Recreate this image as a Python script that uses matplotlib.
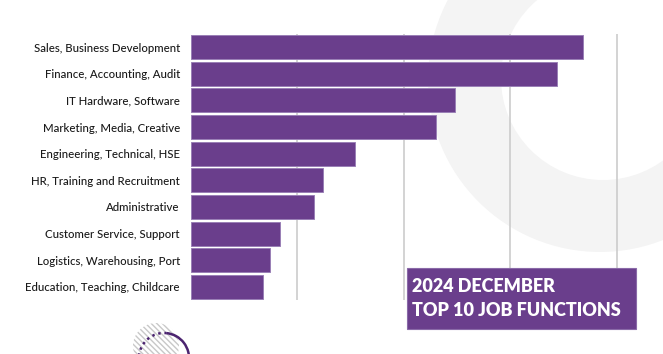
import matplotlib.pyplot as plt
from matplotlib.patches import Circle, Rectangle, Arc

# data
functions = [
    "Sales, Business Development",
    "Finance, Accounting, Audit",
    "IT Hardware, Software",
    "Marketing, Media, Creative",
    "Engineering, Technical, HSE",
    "HR, Training and Recruitment",
    "Administrative",
    "Customer Service, Support",
    "Logistics, Warehousing, Port",
    "Education, Teaching, Childcare",
]
shares = [18.4, 17.2, 12.4, 11.5, 7.7, 6.2, 5.8, 4.2, 3.7, 3.4]
grid_ticks = [5, 10, 15, 20]
title_lines = ["2024 DECEMBER", "TOP 10 JOB FUNCTIONS"]

PURPLE = "#6a3e8c"

fig = plt.figure(figsize=(6.63, 3.54), dpi=100)

# background decoration, in pixel coords (y goes down)
bg = fig.add_axes([0, 0, 1, 1], zorder=0)
bg.set_xlim(0, 663)
bg.set_ylim(354, 0)
bg.axis("off")
bg.add_patch(Circle((600, 80), 172, facecolor="#f4f4f4", edgecolor="none"))
bg.add_patch(Circle((603, 78), 102, facecolor="white", edgecolor="none"))
bg.add_patch(Circle((156, 346), 23, facecolor="none", edgecolor="#c8c8c8",
                    hatch="\\\\\\\\\\\\", linewidth=0))
bg.add_patch(Arc((164, 358), 50, 50, theta1=185, theta2=275, color="#4b2470",
                 linewidth=1.8, linestyle=(0, (1, 1.5))))
bg.add_patch(Arc((164, 358), 50, 50, theta1=275, theta2=370, color="#4b2470",
                 linewidth=1.8))

# main chart
ax = fig.add_axes([191 / 663, 1 - 300.3 / 354, 447 / 663, 266.6 / 354], zorder=1)
ax.set_facecolor("none")
y = range(len(functions))
ax.barh(y, shares, height=0.9, color=PURPLE, edgecolor="#9a80b6", linewidth=0.7,
        zorder=2)
ax.set_ylim(len(functions) - 0.5, -0.5)
ax.set_xlim(0, 21)
ax.set_yticks(list(y))
ax.set_yticklabels(functions, fontfamily="Lato", fontweight="medium",
                   fontsize=8.2, color="#1a1a1a")
ax.set_xticks(grid_ticks)
ax.tick_params(axis="x", length=0, labelbottom=False)
ax.tick_params(axis="y", length=0, pad=8)
ax.grid(axis="x", color="#cccccc", linewidth=1.2, zorder=1)
ax.set_axisbelow(True)
for s in ax.spines.values():
    s.set_visible(False)

# title box
box = fig.add_axes([0, 0, 1, 1], zorder=3)
box.set_xlim(0, 663)
box.set_ylim(354, 0)
box.axis("off")
box.add_patch(Rectangle((407, 268), 229, 61, facecolor=PURPLE, edgecolor="#8a6aa8",
                        linewidth=0.8))
box.text(412, 287, title_lines[0], color="white", fontfamily="Lato",
         fontweight="heavy", fontsize=13, va="center", ha="left")
box.text(412, 311, title_lines[1], color="white", fontfamily="Lato",
         fontweight="heavy", fontsize=13, va="center", ha="left")

fig.savefig("out.png", dpi=100)
